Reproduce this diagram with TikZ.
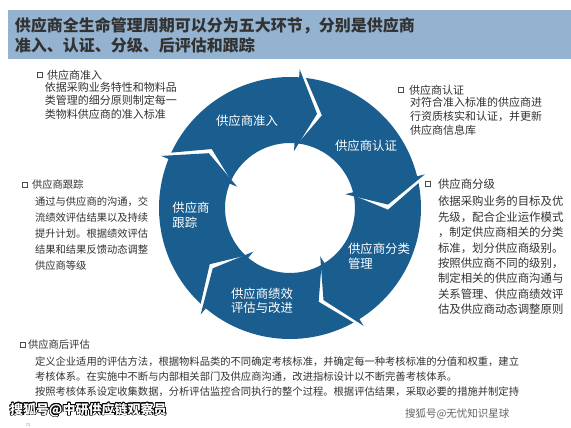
\documentclass[tikz,border=0pt]{standalone}
\usepackage{fontspec}
\setmainfont{Noto Sans CJK SC}
\usepackage{contour}
\usetikzlibrary{positioning,shadows}
\definecolor{ringblue}{RGB}{26,93,143}
\definecolor{barblue}{RGB}{148,179,208}
\definecolor{txtgray}{RGB}{50,50,50}
\contourlength{0.7pt}

\begin{document}
\begin{tikzpicture}
[x=1pt, y=-1pt,
% STYLES
every node/.style={inner sep=0pt, outer sep=0pt},
% title on the blue bar
title/.style={anchor=west, align=left, text=txtgray, font=\bfseries\fontsize{16}{20}\selectfont},
% text inside the ring
seglabel/.style={text=white, font=\fontsize{12.4}{14.5}\selectfont},
% the small box in front of each heading
bullet/.style={rectangle, draw=black!70, fill=white, line width=0.5pt, minimum size=5pt,
  drop shadow={shadow xshift=0.7pt, shadow yshift=-0.7pt, fill=black!50}},
% heading and description of each stage
head/.style={anchor=west, text=txtgray, font=\fontsize{11}{13}\selectfont},
desc/.style={align=left, text=txtgray, anchor=north west},
wmark/.style={anchor=west, text=white, font=\bfseries\fontsize{13}{15}\selectfont}]

\useasboundingbox (0,0) rectangle (571,428);
\fill[white] (0,0) rectangle (571,428);

% Title bar
\fill[barblue] (8,10) rectangle (571,59);
\node[title] (ttl) at (15,35) {供应商全生命管理周期可以分为五大环节，分别是供应商\\准入、认证、分级、后评估和跟踪};

% Ring of five arrows
\begin{scope}[shift={(290,208)}, yscale=-1]
\foreach \a/\b in {155/86, 83/14, 11/-58, -61/-130, -133/-202}
  \fill[ringblue] (\a:131) arc[start angle=\a, end angle=\b, radius=131]
    -- ({\b}:139) -- ({\b-12}:98) -- ({\b}:57) -- ({\b}:65)
    arc[start angle=\b, end angle=\a, radius=65] -- ({\a-12}:98) -- cycle;
\end{scope}

\node[seglabel] (lab-admit) at (247,121) {供应商准入};
\node[seglabel] (lab-cert) at (366,146) {供应商认证};
\node[seglabel, align=left] (lab-class) at (379,256) {供应商分类\\管理};
\node[seglabel, align=center] (lab-eval) at (262,301) {供应商绩效\\评估与改进};
\node[seglabel, align=left] (lab-track) at (191,215) {供应商\\跟踪};

%%%%%%%%%%%%%%%
% Stage descriptions
% admit
\node[head] (hd-admit) at (47,75) {供应商准入};
\node[bullet, left=5pt of hd-admit] (bl-admit) {};
\node[desc, font=\fontsize{11}{13.6}\selectfont, below=2pt of hd-admit.south west, anchor=north west, xshift=-2pt] (ds-admit)
{依据采购业务特性和物料品\\类管理的细分原则制定每一\\类物料供应商的准入标准};
% cert
\node[head] (hd-cert) at (409,90) {供应商认证};
\node[bullet, left=6pt of hd-cert] (bl-cert) {};
\node[desc, font=\fontsize{11}{14}\selectfont, below=2pt of hd-cert.south west, anchor=north west, xshift=1pt] (ds-cert)
{对符合准入标准的供应商进\\行资质核实和认证，并更新\\供应商信息库};
% track
\node[head, font=\fontsize{10.3}{13}\selectfont] (hd-track) at (32,185) {供应商跟踪};
\node[bullet, left=5pt of hd-track] (bl-track) {};
\node[desc, font=\fontsize{10.3}{16}\selectfont, below=7pt of hd-track.south west, anchor=north west, xshift=3pt] (ds-track)
{通过与供应商的沟通，交\\流绩效评估结果以及持续\\提升计划。根据绩效评估\\结果和结果反馈动态调整\\供应商等级};
% grade
\node[head, font=\fontsize{11.4}{13}\selectfont] (hd-grade) at (438,184) {供应商分级};
\node[bullet, left=8pt of hd-grade] (bl-grade) {};
\node[desc, font=\fontsize{11.4}{15.4}\selectfont, below=7pt of hd-grade.south west, anchor=north west] (ds-grade)
{依据采购业务的目标及优\\先级，配合企业运作模式\\，制定供应商相关的分类\\标准，划分供应商级别。\\按照供应商不同的级别，\\制定相关的供应商沟通与\\关系管理、供应商绩效评\\估及供应商动态调整原则};
% post evaluation
\node[head, font=\fontsize{10.3}{13}\selectfont] (hd-post) at (28,345) {供应商后评估};
\node[bullet, left=3pt of hd-post] (bl-post) {};
\node[desc, font=\fontsize{10.3}{15}\selectfont, below=7pt of hd-post.south west, anchor=north west, xshift=7pt] (ds-post)
{定义企业适用的评估方法，根据物料品类的不同确定考核标准，并确定每一种考核标准的分值和权重，建立\\考核体系。在实施中不断与内部相关部门及供应商沟通，改进指标设计以不断完善考核体系。\\按照考核体系设定收集数据，分析评估监控合同执行的整个过程。根据评估结果，采取必要的措施并制定持};
%%%%%%%%%%%%%%%

% Marks at the bottom
\node[wmark] (wm-left) at (10,410) {\contour{black}{搜狐号@中研供应链观察员}};
\node[anchor=west, text=black!60, font=\fontsize{10.5}{12}\selectfont] (wm-right) at (405,414) {搜狐号@无忧知识星球};
\node[text=black!45, font=\fontsize{4}{5}\selectfont] (pg) at (28,425) {72};
\end{tikzpicture}
\end{document}
